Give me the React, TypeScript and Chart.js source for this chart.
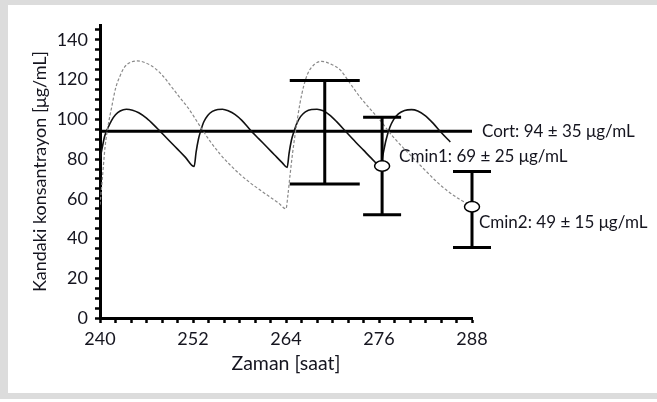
import { useEffect, useRef } from 'react';
import { Chart, registerables } from 'chart.js';

Chart.register(...registerables);

// ---- Data ----
const solidTimes = [
  240, 240.3, 240.6, 241.0, 241.5, 242.0, 242.6, 243.4, 244.2, 245.0, 246.0, 247.0, 247.7, 249.0, 250.0, 251.0, 252.15,
  252.4, 252.7, 253.0, 253.4, 253.9, 254.5, 255.2, 255.8, 256.6, 257.4, 258.3, 259.4, 260.5, 261.5, 262.5, 263.5, 264.15,
  264.4, 264.7, 265.0, 265.4, 265.9, 266.5, 267.3, 268.0, 268.8, 269.6, 270.5, 271.8, 273.0, 274.0, 275.0, 276.2,
  276.5, 276.9, 277.4, 277.9, 278.5, 279.3, 280.2, 281.0, 282.0, 283.0, 284.0, 285.2,
];
const solidValues = [
  80, 86, 91.5, 95.5, 99.5, 102.3, 104.2, 105.1, 104.6, 103.3, 100.6, 97, 94.2, 89, 85, 81, 76.3,
  83.5, 90, 94.3, 98.8, 102, 104, 105, 105.1, 104.2, 102.5, 99.5, 94.6, 90.2, 86.2, 82.2, 78.2, 75.8,
  83, 89.5, 93.5, 98, 101.5, 103.8, 105, 105.1, 104.3, 102.3, 99, 93.5, 88.5, 84.5, 80.5, 76.5,
  82, 89.5, 96, 100, 102.8, 104.5, 104.9, 104.2, 101.8, 98, 93.5, 88.6,
];

const dashedTimes = [
  240, 240.3, 240.65, 241.1, 241.5, 242.0, 242.6, 243.2, 244.0, 244.8, 245.8, 247.1, 248.2, 249.2, 250.3, 251.4,
  253.0, 254.2, 255.5, 256.8, 258.1, 259.4, 260.7, 261.9, 263.0, 264.0,
  264.25, 264.5, 264.85, 265.2, 265.8, 266.3, 266.8, 267.6, 268.6, 269.8, 271.0, 272.2, 273.5, 274.8, 276.1,
  277.8, 279.8, 281.7, 283.2, 284.7, 286.3, 287.9,
];
const dashedValues = [
  57, 70, 86, 98, 106, 115.5, 122, 126.5, 128.8, 129.4, 128.6, 125.7, 121.5, 116.5, 111, 105.6,
  96, 89, 82.5, 77, 72.2, 68, 64.3, 61, 58, 55,
  62, 71.2, 83, 93, 108, 117, 123, 127.5, 129.2, 127.8, 124.9, 118.5, 111.5, 105.5, 99.7,
  91.3, 83, 75.4, 69.5, 64.4, 60, 56.5,
];

const cortValue = 94;
const cortStart = 240;
const cortEnd = 288;

const barTimes = [269, 276.4, 288];
const barHigh = [119.6, 101, 73.7];
const barLow = [67.5, 52, 35.5];
const barMarker: (number | null)[] = [null, 76.5, 56];

const labelTexts = ['Cort: 94 ± 35 μg/mL', 'Cmin1: 69 ± 25 μg/mL', 'Cmin2: 49 ± 15 μg/mL'];
const labelTimes = [288, 276.4, 288];
const labelValues = [94, 81.5, 48.2];

const xMin = 240;
const xMax = 288;
const xMajorStep = 12;
const xMinorStep = 2;
const yMin = 0;
const yMax = 147.5;
const yMajorStep = 20;
const yMinorStep = 5;

const xTitle = 'Zaman [saat]';
const yTitle = 'Kandaki konsantrayon [μg/mL]';

// ---- Styles ----
const FONT = 'Lato, "Open Sans", sans-serif';
const TEXT_COLOR = '#15151f';
const capHalfWidths = [35, 19, 19];
const labelOffsets = [10, 17, 7];

const overlayPlugin = {
  id: 'overlay',
  beforeDraw(chart: any) {
    const { ctx, width, height } = chart;
    ctx.save();
    ctx.fillStyle = '#ffffff';
    ctx.fillRect(0, 0, width, height);
    ctx.fillStyle = '#dcdcdc';
    ctx.fillRect(0, 0, width, 5);
    ctx.fillRect(0, 0, 8, 399);
    ctx.fillRect(0, 393, width, 6);
    ctx.restore();
  },
  afterDatasetsDraw(chart: any) {
    const { ctx } = chart;
    const x = chart.scales.x;
    const y = chart.scales.y;
    ctx.save();
    ctx.strokeStyle = '#000';
    ctx.lineCap = 'butt';
    barTimes.forEach((t, i) => {
      const px = x.getPixelForValue(t);
      const hi = y.getPixelForValue(barHigh[i]);
      const lo = y.getPixelForValue(barLow[i]);
      const hw = capHalfWidths[i];
      ctx.lineWidth = 3;
      ctx.beginPath();
      ctx.moveTo(px, hi);
      ctx.lineTo(px, lo);
      ctx.moveTo(px - hw, hi);
      ctx.lineTo(px + hw, hi);
      ctx.moveTo(px - hw, lo);
      ctx.lineTo(px + hw, lo);
      ctx.stroke();
      const m = barMarker[i];
      if (m !== null) {
        const py = y.getPixelForValue(m);
        ctx.beginPath();
        ctx.ellipse(px, py, 7.5, 5.2, 0, 0, Math.PI * 2);
        ctx.fillStyle = '#fff';
        ctx.fill();
        ctx.lineWidth = 1.5;
        ctx.stroke();
      }
    });
    ctx.fillStyle = TEXT_COLOR;
    ctx.font = '17px ' + FONT;
    ctx.textAlign = 'left';
    ctx.textBaseline = 'middle';
    labelTexts.forEach((txt, i) => {
      const px = x.getPixelForValue(labelTimes[i]) + labelOffsets[i];
      const py = y.getPixelForValue(labelValues[i]);
      ctx.fillText(txt, px, py);
    });
    ctx.restore();
  },
};

export default function App() {
  const ref = useRef<HTMLCanvasElement | null>(null);
  useEffect(() => {
    if (!ref.current) return;
    const chart = new Chart(ref.current, {
      type: 'line',
      data: {
        datasets: [
          {
            data: dashedTimes.map((t, i) => ({ x: t, y: dashedValues[i] })),
            borderColor: '#8a8a8a',
            borderWidth: 1.2,
            borderDash: [3, 2],
            pointRadius: 0,
            cubicInterpolationMode: 'monotone',
            fill: false,
          },
          {
            data: solidTimes.map((t, i) => ({ x: t, y: solidValues[i] })),
            borderColor: '#111',
            borderWidth: 1.6,
            pointRadius: 0,
            cubicInterpolationMode: 'monotone',
            fill: false,
          },
          {
            data: [
              { x: cortStart, y: cortValue },
              { x: cortEnd, y: cortValue },
            ],
            borderColor: '#000',
            borderWidth: 3,
            pointRadius: 0,
            fill: false,
          },
        ],
      },
      options: {
        animation: false,
        responsive: false,
        events: [],
        layout: { padding: { top: 25, right: 185, bottom: 0, left: 0 } },
        plugins: { legend: { display: false }, tooltip: { enabled: false } },
        scales: {
          x: {
            type: 'linear',
            min: xMin,
            max: xMax,
            afterFit: (s: any) => {
              s.height = 84;
            },
            ticks: {
              stepSize: xMinorStep,
              autoSkip: false,
              maxRotation: 0,
              includeBounds: false,
              padding: 5,
              color: TEXT_COLOR,
              font: { family: FONT, size: 18 },
              callback: (v: any) => (Number(v) % xMajorStep === 0 ? String(v) : ''),
            },
            grid: {
              drawOnChartArea: false,
              drawTicks: true,
              tickLength: 5,
              tickColor: '#000',
              tickWidth: 2.5,
            },
            border: { display: true, color: '#000', width: 3 },
            title: {
              display: true,
              text: xTitle,
              color: TEXT_COLOR,
              font: { family: FONT, size: 19.5 },
              padding: { top: 0, bottom: 27 },
            },
          },
          y: {
            type: 'linear',
            min: yMin,
            max: yMax,
            afterFit: (s: any) => {
              s.width = 100;
            },
            ticks: {
              stepSize: yMinorStep,
              autoSkip: false,
              includeBounds: false,
              padding: 7,
              color: TEXT_COLOR,
              font: { family: FONT, size: 18 },
              callback: (v: any) => (Number(v) % yMajorStep === 0 ? String(v) : ''),
            },
            grid: {
              drawOnChartArea: false,
              drawTicks: true,
              tickLength: 5,
              tickColor: '#000',
              tickWidth: 2.5,
            },
            border: { display: true, color: '#000', width: 3 },
            title: {
              display: true,
              text: yTitle,
              color: TEXT_COLOR,
              font: { family: FONT, size: 18 },
              padding: { top: 29, bottom: 0 },
            },
          },
        },
      },
      plugins: [overlayPlugin],
    } as any);
    return () => chart.destroy();
  }, []);
  return (
    <div style={{ position: 'fixed', left: 0, top: 0, width: 657, height: 402 }}>
      <canvas ref={ref} width={657} height={402} style={{ display: 'block' }} />
    </div>
  );
}
